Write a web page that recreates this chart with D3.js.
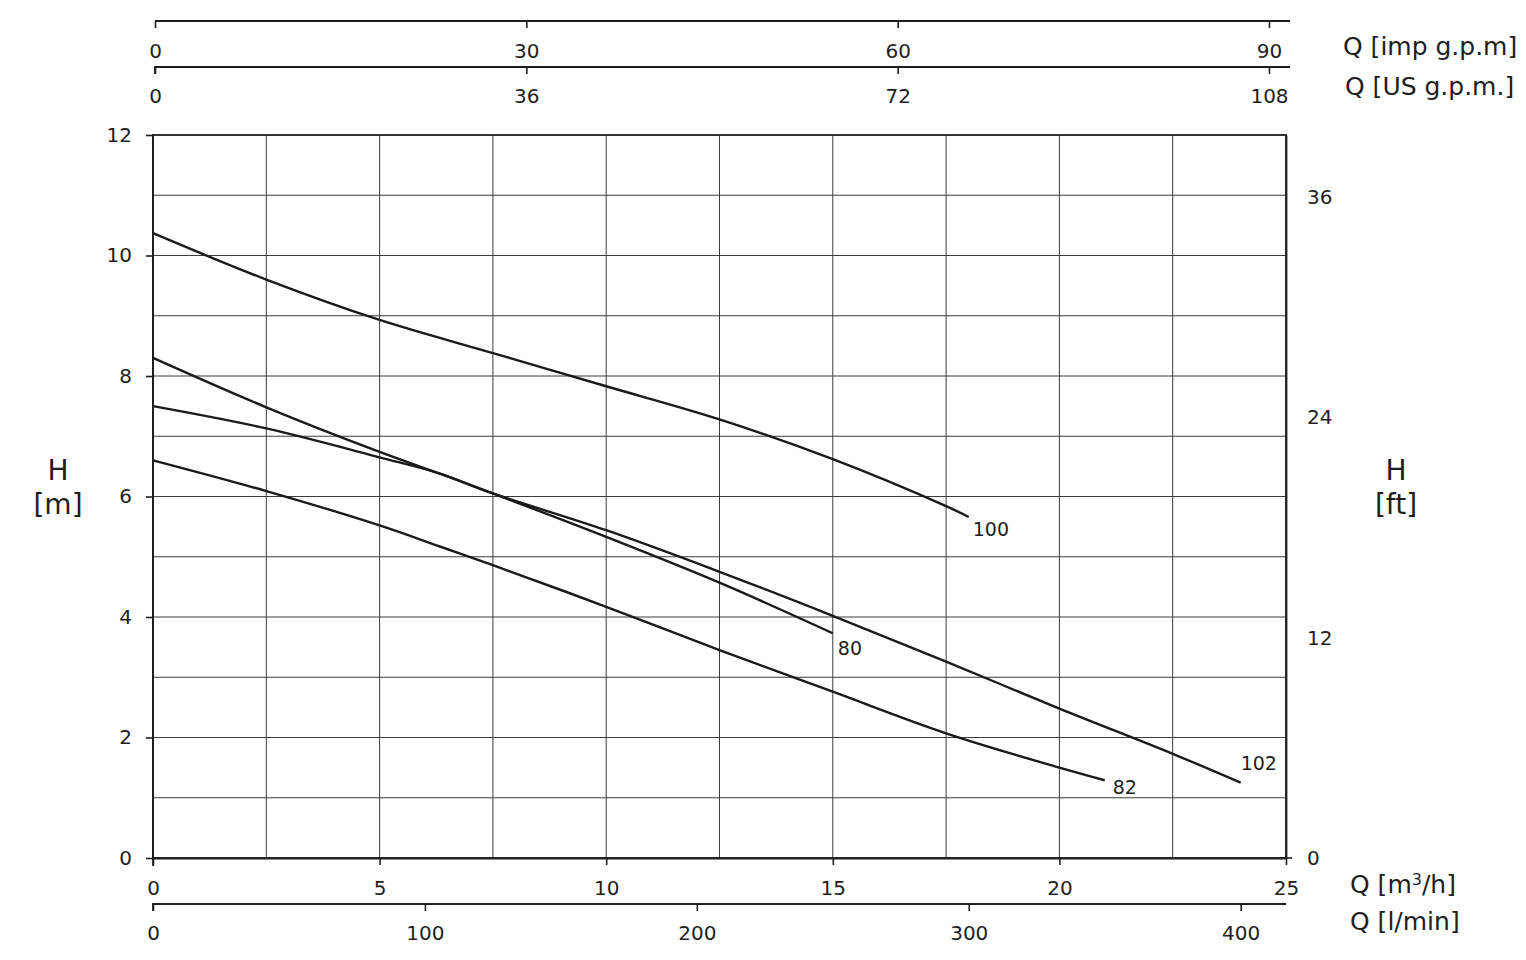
<!DOCTYPE html>
<html>
<head>
<meta charset="utf-8">
<script src="https://cdn.jsdelivr.net/npm/d3@7"></script>
<style>
  html, body { margin: 0; padding: 0; background: #fff; }
  svg { display: block; }
  text { font-family: "DejaVu Sans", sans-serif; fill: #1e1e1e; }
</style>
</head>
<body>
<svg id="chart" width="1526" height="960"></svg>
<script>
// ---------------- data ----------------
const qTicksM3h   = [0, 5, 10, 15, 20, 25];
const qTicksLmin  = [0, 100, 200, 300, 400];
const qTicksImp   = [0, 30, 60, 90];
const qTicksUS    = [0, 36, 72, 108];
const hTicksM     = [0, 2, 4, 6, 8, 10, 12];
const hTicksFt    = [0, 12, 24, 36];

const seriesNames = ["100", "80", "102", "82"];
const q100 = [0, 2.5, 5, 7.5, 10, 12.5, 15, 17.5, 18];
const h100 = [10.37, 9.60, 8.93, 8.38, 7.83, 7.28, 6.62, 5.84, 5.66];
const q80  = [0, 2.5, 5, 6.33, 7.5, 10, 12.5, 15];
const h80  = [8.30, 7.48, 6.74, 6.38, 6.05, 5.33, 4.57, 3.73];
const q102 = [0, 2.5, 5, 6.33, 7.5, 10, 12.5, 15, 17.5, 20, 22.5, 24];
const h102 = [7.50, 7.13, 6.65, 6.38, 6.05, 5.44, 4.75, 4.02, 3.26, 2.48, 1.73, 1.25];
const q82  = [0, 2.5, 5, 6.33, 7.5, 10, 12.5, 15, 17.5, 20, 21];
const h82  = [6.60, 6.09, 5.52, 5.17, 4.86, 4.17, 3.45, 2.76, 2.07, 1.50, 1.29];

// ---------------- layout ----------------
const svg = d3.select("#chart");
const X0 = 153, X1 = 1286, Y0 = 858, Y1 = 135;
const x = d3.scaleLinear().domain([0, 25]).range([X0, X1]);
const y = d3.scaleLinear().domain([0, 12]).range([Y0, Y1]);
const LMIN_PER_M3H = 1000 / 60;
const xL = d3.scaleLinear().domain([0, 25 * LMIN_PER_M3H]).range([X0, X1]);
const xImp = d3.scaleLinear().domain([0, 90]).range([155, 1269]);
const xUS  = d3.scaleLinear().domain([0, 108]).range([155, 1269]);
const yFt = d3.scaleLinear().domain([0, 12 / 0.3048]).range([Y0, Y1]);

// grid
const grid = svg.append("g").attr("stroke", "#3c3c3c").attr("stroke-width", 1);
d3.range(2.5, 25, 2.5).forEach(v => {
  grid.append("line").attr("x1", x(v)).attr("x2", x(v)).attr("y1", Y1).attr("y2", Y0);
});
d3.range(1, 12, 1).forEach(v => {
  grid.append("line").attr("x1", X0).attr("x2", X1).attr("y1", y(v)).attr("y2", y(v));
});

// frame
svg.append("rect").attr("x", X0).attr("y", Y1).attr("width", X1 - X0).attr("height", Y0 - Y1)
  .attr("fill", "none").attr("stroke", "#1e1e1e").attr("stroke-width", 1.8);

function styleAxis(g, fs) {
  g.selectAll(".domain").attr("stroke", "#1e1e1e").attr("stroke-width", 1.8);
  g.selectAll(".tick line").attr("stroke", "#1e1e1e").attr("stroke-width", 1.6);
  g.selectAll(".tick text").style("font-family", "'DejaVu Sans', sans-serif")
    .style("font-size", fs + "px").attr("fill", "#1e1e1e");
}

// bottom m3/h
const gB = svg.append("g").attr("transform", `translate(0,${Y0})`)
  .call(d3.axisBottom(x).tickValues(qTicksM3h).tickSize(7).tickSizeOuter(0).tickPadding(16));
styleAxis(gB, 20);
svg.append("line").attr("x1", X1).attr("x2", X1 + 6).attr("y1", Y0).attr("y2", Y0).attr("stroke", "#1e1e1e").attr("stroke-width", 1.6);

// bottom l/min
const gL = svg.append("g").attr("transform", `translate(0,904)`)
  .call(d3.axisBottom(xL).tickValues(qTicksLmin).tickSize(7).tickSizeOuter(0).tickPadding(15));
styleAxis(gL, 20);
gL.select(".domain").attr("d", `M${X0},7V0H${X1}`);

// top imp gpm
const gI = svg.append("g").attr("transform", `translate(0,21)`)
  .call(d3.axisBottom(xImp).tickValues(qTicksImp).tickSize(7).tickSizeOuter(0).tickPadding(16));
styleAxis(gI, 20);
gI.select(".domain").attr("d", `M155,0H1290`);

// top US gpm
const gU = svg.append("g").attr("transform", `translate(0,67)`)
  .call(d3.axisBottom(xUS).tickValues(qTicksUS).tickSize(7).tickSizeOuter(0).tickPadding(15));
styleAxis(gU, 20);
gU.select(".domain").attr("d", `M155,7V0H1290`);

// left m
const gLeft = svg.append("g").attr("transform", `translate(${X0},0)`)
  .call(d3.axisLeft(y).tickValues(hTicksM).tickSize(7).tickSizeOuter(0).tickPadding(14));
styleAxis(gLeft, 20);
gLeft.select(".domain").attr("d", `M0,${Y0 + 8}V${Y1}`);

// right ft
const gRight = svg.append("g").attr("transform", `translate(${X1},0)`)
  .call(d3.axisRight(yFt).tickValues(hTicksFt).tickSize(0).tickSizeOuter(0).tickPadding(21));
styleAxis(gRight, 20);

// axis titles
const titles = svg.append("g");
titles.append("text").attr("x", 1343).attr("y", 55).style("font-size", "25px").text("Q [imp g.p.m]");
titles.append("text").attr("x", 1345).attr("y", 95).style("font-size", "25px").text("Q [US g.p.m.]");
const tq = titles.append("text").attr("x", 1350).attr("y", 893).style("font-size", "25px");
tq.append("tspan").text("Q [m");
tq.append("tspan").attr("dy", -8).style("font-size", "16px").text("3");
tq.append("tspan").attr("dy", 8).text("/h]");
titles.append("text").attr("x", 1350).attr("y", 930).style("font-size", "25px").text("Q [l/min]");

titles.append("text").attr("x", 58).attr("y", 480).attr("text-anchor", "middle").style("font-size", "28px").text("H");
titles.append("text").attr("x", 58).attr("y", 514).attr("text-anchor", "middle").style("font-size", "28px").text("[m]");
titles.append("text").attr("x", 1396).attr("y", 480).attr("text-anchor", "middle").style("font-size", "28px").text("H");
titles.append("text").attr("x", 1396).attr("y", 514).attr("text-anchor", "middle").style("font-size", "28px").text("[ft]");

// curves
const seriesQ = [q100, q80, q102, q82];
const seriesH = [h100, h80, h102, h82];
const labelOffset = { "100": [4, 19], "80": [5, 22], "102": [0, -13], "82": [8, 14] };
const line = d3.line().x(d => x(d[0])).y(d => y(d[1])).curve(d3.curveCatmullRom.alpha(0.5));
const gc = svg.append("g");
seriesNames.forEach((name, i) => {
  const pts = seriesQ[i].map((q, j) => [q, seriesH[i][j]]);
  gc.append("path").datum(pts).attr("d", line)
    .attr("fill", "none").attr("stroke", "#1a1a1a").attr("stroke-width", 2.4);
  const last = pts[pts.length - 1];
  const off = labelOffset[name];
  gc.append("text").attr("x", x(last[0]) + off[0]).attr("y", y(last[1]) + off[1])
    .style("font-size", "19px").text(name);
});
</script>
</body>
</html>
